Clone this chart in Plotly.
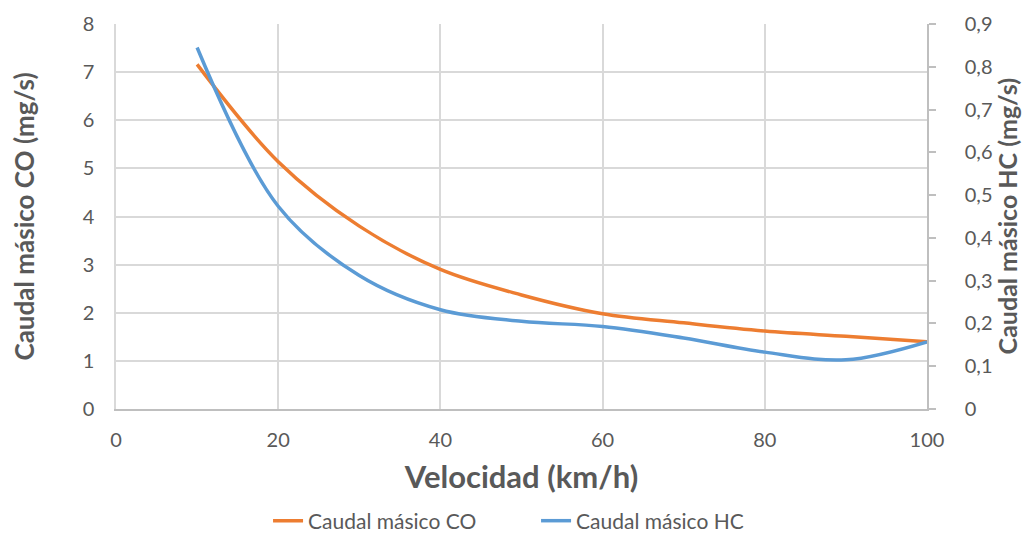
import plotly.graph_objects as go

# Velocidad (km/h)
velocidad = [10, 20, 30, 40, 50, 60, 70, 80, 90, 100]
# Caudal másico CO (mg/s)
caudal_co = [7.16, 5.14, 3.80, 2.90, 2.37, 1.98, 1.79, 1.62, 1.51, 1.40]
# Caudal másico HC (mg/s)
caudal_hc = [0.845, 0.474, 0.312, 0.232, 0.205, 0.193, 0.166, 0.133, 0.115, 0.157]
hc_ticks = [0, 0.1, 0.2, 0.3, 0.4, 0.5, 0.6, 0.7, 0.8, 0.9]
hc_labels = ["0", "0,1", "0,2", "0,3", "0,4", "0,5", "0,6", "0,7", "0,8", "0,9"]

FONT = "Lato, Open Sans, sans-serif"
GRID = "#d9d9d9"
TXT = "#595959"

fig = go.Figure()
fig.add_trace(go.Scatter(
    x=velocidad, y=caudal_co, name="Caudal másico CO", mode="lines",
    line=dict(color="#ed7d31", width=3.5, shape="spline", smoothing=1.0),
))
fig.add_trace(go.Scatter(
    x=velocidad, y=caudal_hc, name="Caudal másico HC", mode="lines",
    line=dict(color="#5b9bd5", width=3.5, shape="spline", smoothing=1.0),
    yaxis="y2",
))

fig.update_layout(
    width=1023, height=534,
    margin=dict(l=116, r=96, t=24, b=125, autoexpand=False),
    paper_bgcolor="white", plot_bgcolor="white",
    separators=",.",
    font=dict(family=FONT, size=20, color=TXT),
    xaxis=dict(
        range=[0, 100], dtick=20, tick0=0,
        showgrid=True, gridcolor=GRID, gridwidth=1.5,
        showline=True, linecolor="#bfbfbf", linewidth=1.5,
        zeroline=False, ticks="", ticklabelstandoff=12,
        title=dict(text="<b>Velocidad (km/h)</b>",
                   font=dict(size=31, color=TXT), standoff=17),
    ),
    yaxis=dict(
        range=[0, 8], dtick=1,
        showgrid=True, gridcolor=GRID, gridwidth=1.5,
        showline=True, linecolor=GRID, linewidth=1.5,
        zeroline=False, ticks="", ticklabelstandoff=16,
        title=dict(text="<b>Caudal másico CO (mg/s)</b>",
                   font=dict(size=26, color=TXT), standoff=41),
    ),
    yaxis2=dict(
        range=[0, 0.9], overlaying="y", side="right",
        tickmode="array", tickvals=hc_ticks, ticktext=hc_labels,
        showgrid=False, zeroline=False,
        showline=True, linecolor="#bfbfbf", linewidth=1.5,
        ticks="outside", ticklen=7, tickcolor="#bfbfbf", tickwidth=1.5,
        ticklabelstandoff=25,
    ),
    legend=dict(
        orientation="h", x=0.524, xanchor="center", xref="container",
        y=-0.291, yanchor="middle", yref="paper",
        font=dict(size=21, color=TXT), itemwidth=30,
        entrywidth=223, entrywidthmode="pixels",
    ),
    annotations=[dict(
        text="<b>Caudal másico HC (mg/s)</b>", textangle=-90,
        xref="paper", yref="paper", x=1.0985, y=0.5,
        xanchor="center", yanchor="middle", showarrow=False,
        font=dict(size=25, color=TXT),
    )],
)

fig.write_html("out.html")
